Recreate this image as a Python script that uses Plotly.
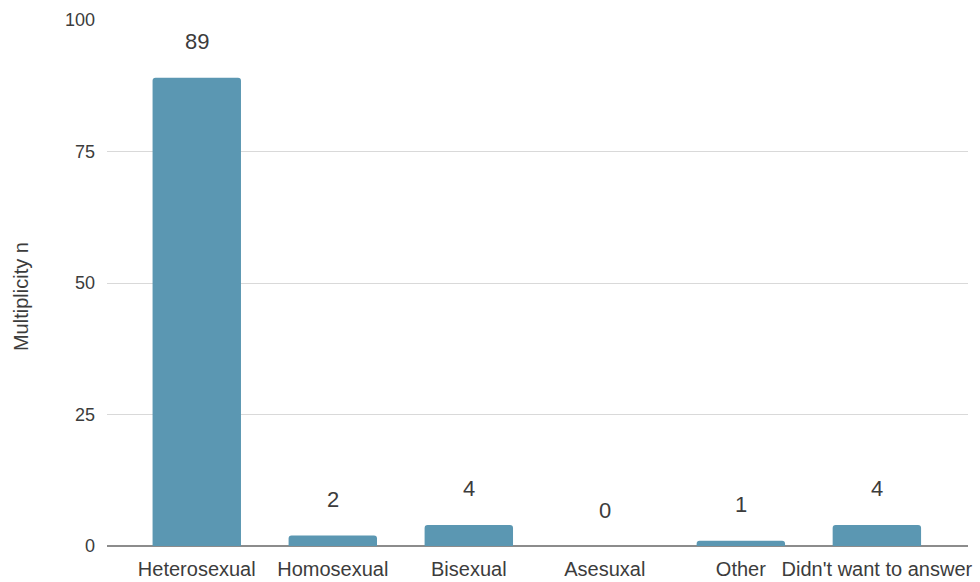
import plotly.graph_objects as go

categories = ["Heterosexual", "Homosexual", "Bisexual", "Asesuxal", "Other", "Didn't want to answer"]
counts = [89, 2, 4, 0, 1, 4]
y_ticks = [0, 25, 50, 75, 100]

BAR = "#5b97b2"
TEXT = "#3c3c3c"
FONT = "Liberation Sans, Arial, sans-serif"

fig = go.Figure(
    go.Bar(
        x=categories,
        y=counts,
        marker=dict(color=BAR, cornerradius=3, line=dict(width=0)),
        width=0.65,
        hoverinfo="x+y",
    )
)

# value labels floating above each bar
for c, v in zip(categories, counts):
    fig.add_annotation(
        x=c, y=v, text=str(v), showarrow=False, yshift=36,
        font=dict(family=FONT, size=22, color=TEXT),
    )

fig.add_annotation(
    xref="paper", yref="paper", x=-0.1, y=0.475, text="Multiplicity n",
    textangle=-90, showarrow=False, xanchor="center", yanchor="middle",
    font=dict(family=FONT, size=20, color=TEXT),
)

fig.update_layout(
    width=980, height=582,
    margin=dict(l=107, r=12, t=20, b=36),
    paper_bgcolor="white", plot_bgcolor="white",
    showlegend=False,
    font=dict(family=FONT, color=TEXT),
    xaxis=dict(
        range=[-0.66, 5.67], showgrid=False, zeroline=False, automargin=False,
        showline=False, ticks="", tickfont=dict(size=20, color=TEXT),
        ticklabelstandoff=9,
    ),
    yaxis=dict(
        range=[0, 100], tickvals=y_ticks, showgrid=True, automargin=False,
        gridcolor="#d9d9d9", gridwidth=1,
        zeroline=True, zerolinecolor="#8c8c8c", zerolinewidth=2,
        showline=False, ticks="", tickfont=dict(size=18, color=TEXT),
        ticklabelstandoff=11,
    ),
)

fig.write_html("out.html")
